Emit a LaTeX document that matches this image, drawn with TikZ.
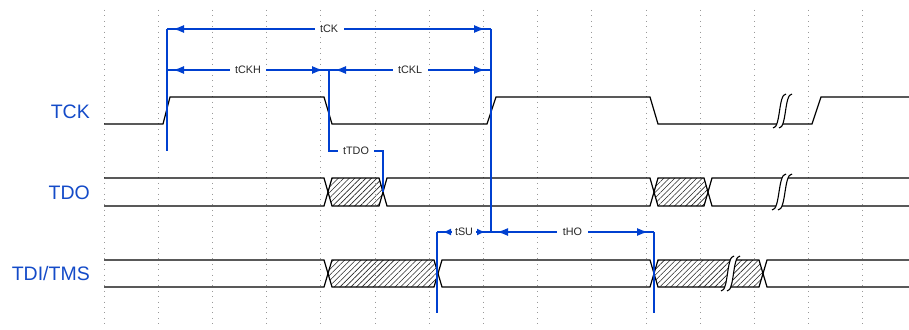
\documentclass[tikz,border=0pt]{standalone}
\usepackage{fontspec}
\setmainfont{Liberation Sans}
\usetikzlibrary{arrows.meta,patterns.meta}
\definecolor{annblue}{RGB}{0,64,208}
\definecolor{lblblue}{RGB}{20,75,200}
\tikzset{
  gridline/.style={black!40, line width=0.9pt, dash pattern=on 1pt off 4.4pt},
  sig/.style={black, line width=1.2pt, line join=miter},
  hatchfill/.style={pattern={Lines[angle=45,distance=3.9pt,line width=0.6pt]}, pattern color=black!85},
  ann/.style={annblue, line width=1.4pt},
  dim/.style={annblue, line width=1.4pt, {Latex[length=11pt,width=8pt]}-{Latex[length=11pt,width=8pt]}, shorten <=6pt, shorten >=6pt},
  dimsmall/.style={annblue, line width=1.4pt, {Latex[length=8pt,width=7pt]}-{Latex[length=8pt,width=7pt]}, shorten <=6pt, shorten >=6pt},
  tlabel/.style={fill=white, inner xsep=5.5pt, inner ysep=1pt, font=\fontsize{10.8}{12}\selectfont, text=black!85},
  siglabel/.style={anchor=base east, inner sep=0pt, text=lblblue, font=\fontsize{19.5}{22}\selectfont}
}
% bus segment between crossing centres #2 and #3, top #4, bottom #5
\newcommand\bseg[5][]{\draw[sig,#1] (#2,{(#4+#5)/2}) -- ({#2+4},#4) -- ({#3-4},#4) -- (#3,{(#4+#5)/2}) -- ({#3-4},#5) -- ({#2+4},#5) -- cycle;}
% break mark: bottom x #1, bottom y #2, top y #3, width #4
\newcommand\brkmark[4]{%
  \fill[white] (#1,#2) .. controls ({#1+#4*0.6},#2) and ({#1+#4*0.4},#3) .. ({#1+#4},#3) -- ({#1+#4+6},#3) .. controls ({#1+#4*0.4+6},#3) and ({#1+#4*0.6+6},#2) .. ({#1+6},#2) -- cycle;
  \draw[black, line width=1.1pt] (#1,#2) .. controls ({#1+#4*0.6},#2) and ({#1+#4*0.4},#3) .. ({#1+#4},#3);
  \draw[black, line width=1.1pt] ({#1+6},#2) .. controls ({#1+#4*0.6+6},#2) and ({#1+#4*0.4+6},#3) .. ({#1+#4+6},#3);
}
\begin{document}
\begin{tikzpicture}[x=1pt,y=-1pt]
\useasboundingbox (0,0) rectangle (909,329);
% grid
\foreach \k in {0,...,14} \draw[gridline] ({104+54.2*\k},10) -- ({104+54.2*\k},325);

% ---- TCK ----
\draw[sig] (104,124) -- (163,124) -- (170,97) -- (324,97) -- (332,124) -- (487,124) -- (496,97)
  -- (650,97) -- (658,124) -- (812,124) -- (821,97) -- (909,97);
\brkmark{773}{128}{94}{13}

% ---- TDO ----  top 178 bottom 206
\draw[sig] (104,178) -- (324,178) -- (328,192) -- (324,206) -- (104,206);
\fill[hatchfill] (328,192) -- (332,178) -- (379,178) -- (383,192) -- (379,206) -- (332,206) -- cycle;
\bseg{328}{383}{178}{206}
\bseg{383}{654}{178}{206}
\fill[hatchfill] (654,192) -- (658,178) -- (704,178) -- (708,192) -- (704,206) -- (658,206) -- cycle;
\bseg{654}{708}{178}{206}
\draw[sig] (909,178) -- (712,178) -- (708,192) -- (712,206) -- (909,206);
\brkmark{772}{210}{174}{14}

% ---- TDI/TMS ---- top 260 bottom 287
\draw[sig] (104,260) -- (324,260) -- (328,273.5) -- (324,287) -- (104,287);
\fill[hatchfill] (328,273.5) -- (332,260) -- (434,260) -- (438,273.5) -- (434,287) -- (332,287) -- cycle;
\bseg{328}{438}{260}{287}
\bseg{438}{654}{260}{287}
\fill[hatchfill] (654,273.5) -- (658,260) -- (759,260) -- (763,273.5) -- (759,287) -- (658,287) -- cycle;
\bseg{654}{763}{260}{287}
\draw[sig] (909,260) -- (767,260) -- (763,273.5) -- (767,287) -- (909,287);
\brkmark{721}{291}{256}{13}

% ---- annotations ----
\coordinate (v1t) at (167,29);  \coordinate (v1b) at (167,151);
\coordinate (m1)  at (167,70);
\coordinate (v2t) at (329,70);  \coordinate (v2b) at (329,151);
\coordinate (v3t) at (491,29);  \coordinate (m3) at (491,70);
\coordinate (v3b) at (491,232);
\coordinate (tdoA) at (383,151); \coordinate (tdoB) at (383,192);
\coordinate (v4t) at (437,232); \coordinate (v4b) at (437,313);
\coordinate (v5t) at (654,232); \coordinate (v5b) at (654,313);

\draw[ann] (v1t) -- (v1b);
\draw[ann] (v3t) -- (v3b);
\draw[ann] (v4t) -- (v4b);
\draw[ann] (v5t) -- (v5b);
\draw[ann] (v2t) -- (v2b) -- node[tlabel]{tTDO} (tdoA) -- (tdoB);

\draw[ann] (v1t) -- (v3t);
\draw[dim] (v1t) -- node[tlabel]{tCK} (v3t);
\draw[ann] (m1) -- (v2t);
\draw[dim] (m1) -- node[tlabel]{tCKH} (v2t);
\draw[ann] (v2t) -- (m3);
\draw[dim] (v2t) -- node[tlabel]{tCKL} (m3);
\draw[ann] (v4t) -- (v3b);
\draw[dimsmall] (v4t) -- node[tlabel, inner xsep=3pt]{tSU} (v3b);
\draw[ann] (v3b) -- (v5t);
\draw[dim] (v3b) -- node[tlabel]{tHO} (v5t);

% ---- signal labels ----
\node[siglabel] (lTCK) at (90,118) {TCK};
\node[siglabel] (lTDO) at (90,199) {TDO};
\node[siglabel] (lTDI) at (90,280) {TDI/TMS};
\end{tikzpicture}
\end{document}
